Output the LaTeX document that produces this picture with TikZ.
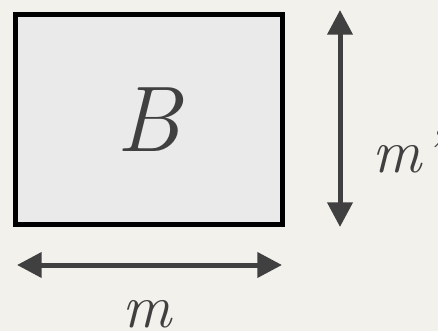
\documentclass[tikz,border=0pt]{standalone}
\usepackage{fontspec}
\usetikzlibrary{arrows.meta}
\definecolor{paper}{HTML}{F3F1EC}
\definecolor{boxfill}{HTML}{EAEAEA}
\definecolor{inkgray}{HTML}{404040}
\tikzset{
  setbox/.style={draw=black, line width=3.75pt, fill=boxfill, minimum width=200pt, minimum height=157.5pt, inner sep=0pt},
  dimline/.style={{Triangle[length=18.5pt, width=18.5pt]}-{Triangle[length=18.5pt, width=18.5pt]}, line width=3.75pt, draw=inkgray},
  dimlabel/.style={text=inkgray, inner sep=0pt, font=\fontsize{46}{46}\selectfont\itshape}
}
\begin{document}
\begin{tikzpicture}[x=0.75pt, y=-0.75pt]
  % 1. background
  \fill[paper] (0,0) rectangle (438,331);
  \useasboundingbox (0,0) rectangle (438,331);

  % 2. the set B
  \node[setbox] (box) at (149,119.5) {};
  \node[text=inkgray, inner sep=0pt, font=\fontsize{70}{70}\selectfont\itshape] (blabel) at (box.center) {B};

  % 3. side lengths
  \coordinate (vtop) at (340,10);
  \coordinate (vbot) at (340,227);
  \coordinate (hleft) at (17,265);
  \coordinate (hright) at (282,265);
  \draw[dimline] (vtop) -- (vbot);
  \draw[dimline] (hleft) -- (hright);

  % 4. labels
  \node[dimlabel, anchor=base west] (mprime) at (372,172) {m’};
  \node[dimlabel, anchor=base] (mlabel) at (147,327) {m};
\end{tikzpicture}
\end{document}
